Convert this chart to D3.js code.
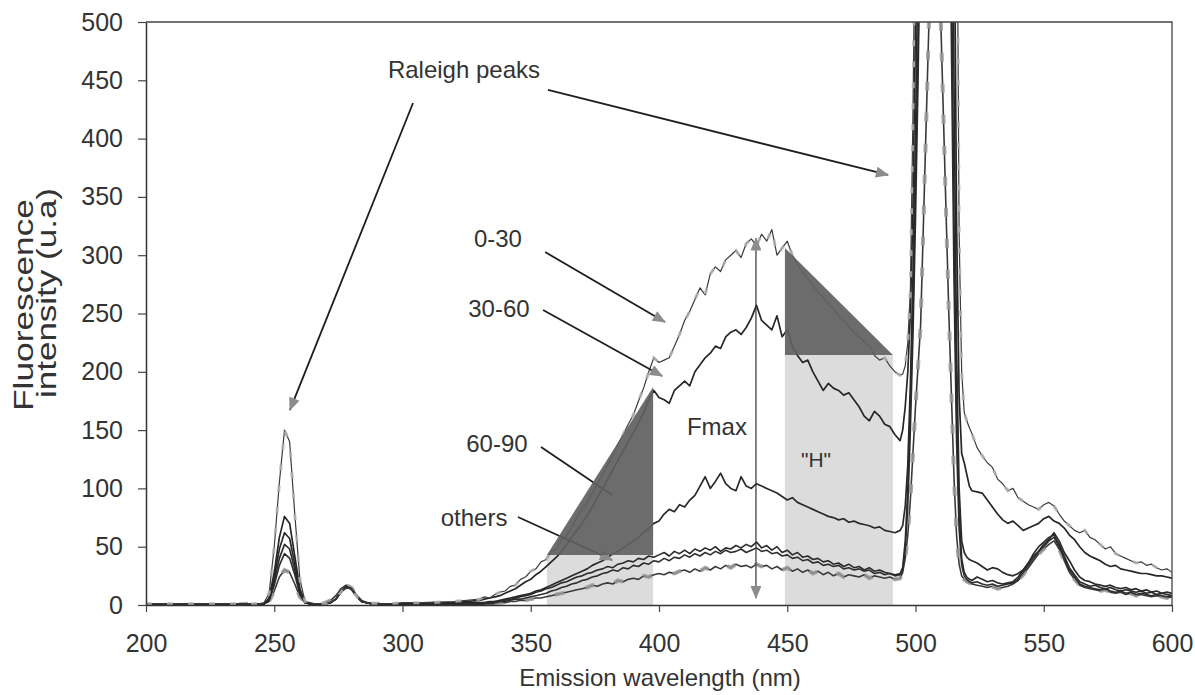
<!DOCTYPE html>
<html>
<head>
<meta charset="utf-8">
<script src="https://cdn.jsdelivr.net/npm/d3@7"></script>
<style>
  html, body { margin: 0; padding: 0; background: #fff; }
  svg { display: block; font-family: "Liberation Sans", Arial, sans-serif; }
</style>
</head>
<body>
<svg id="chart" width="1195" height="695"></svg>
<script>
// ---- sampling grid (nm) ----
const wavelengths = [].concat(
  [200, 210, 220, 230, 240],
  d3.range(244, 291, 2),
  [295, 300, 310, 320, 325],
  d3.range(330, 495, 2),
  d3.range(495, 523, 1),
  d3.range(524, 601, 2)
);

// ---- fluorescence intensity (u.a) per depth class ----
const depth0to30 = [
  1, 1, 1, 1, 1,
  1, 2, 10, 50, 105, 150, 140, 78, 22, 3,
  2, 1, 1, 1, 2, 5, 11, 15, 14, 8,
  3, 2, 1, 1,
  1, 2, 2, 3, 4,
  5, 7, 6, 9, 11, 12, 16, 17, 22, 24,
  29, 31, 37, 39, 46, 48, 56, 59, 67, 75,
  82, 88, 96, 104, 112, 120, 128, 138, 146, 155,
  163, 175, 186, 200, 212, 208, 210, 212, 222, 232,
  244, 252, 262, 272, 266, 284, 290, 286, 296, 300,
  304, 298, 310, 314, 308, 318, 312, 322, 300, 306,
  312, 300, 292, 286, 280, 274, 268, 264, 258, 254,
  248, 244, 238, 234, 230, 226, 222, 214, 210, 212,
  205, 200, 197,
  198, 205, 225, 270, 420, 620, 850, 1000, 1000, 1000,
  1000, 1000, 1000, 1000, 1000, 1000, 1000, 1000, 1000, 1000,
  1000, 700, 320, 200, 165, 158, 152, 147,
  135, 128, 122, 118, 108, 104, 98, 100, 92, 89,
  86, 84, 82, 86, 88, 85, 78, 72, 68, 64,
  62, 64, 58, 56, 52, 48, 50, 44, 42, 40,
  38, 36, 37, 34, 35, 32, 30, 31, 28
];

const depth30to60 = [
  1, 1, 1, 1, 1,
  1, 1, 6, 28, 58, 76, 70, 42, 14, 2,
  1, 1, 1, 1, 2, 5, 11, 15, 14, 8,
  3, 2, 1, 1,
  1, 1, 2, 2, 3,
  4, 5, 6, 7, 8, 10, 12, 14, 17, 20,
  22, 26, 29, 33, 37, 41, 46, 52, 58, 64,
  70, 77, 84, 92, 100, 108, 116, 124, 132, 140,
  148, 156, 165, 176, 184, 178, 176, 173, 184, 188,
  192, 188, 200, 206, 212, 216, 222, 220, 230, 234,
  236, 232, 238, 246, 257, 244, 240, 236, 248, 230,
  236, 222, 214, 208, 210, 200, 192, 184, 190, 186,
  184, 180, 182, 176, 170, 162, 158, 166, 162, 155,
  153, 146, 141,
  150, 170, 200, 250, 340, 500, 700, 900, 1000, 1000,
  1000, 1000, 1000, 1000, 1000, 1000, 1000, 1000, 1000, 1000,
  650, 330, 180, 130, 122, 112, 102, 98,
  97, 96, 90, 84, 78, 73, 70, 72, 68, 64,
  66, 68, 70, 74, 76, 72, 70, 66, 60, 56,
  50, 45, 42, 40, 38, 35, 33, 34, 31, 30,
  29, 28, 27, 27, 26, 25, 25, 24, 23
];

const depth60to90 = [
  1, 1, 1, 1, 1,
  1, 1, 5, 24, 48, 62, 57, 35, 12, 2,
  1, 1, 1, 1, 2, 5, 11, 15, 14, 8,
  3, 2, 1, 1,
  1, 1, 1, 2, 2,
  2, 2, 3, 3, 4, 5, 6, 7, 8, 9,
  10, 12, 13, 15, 17, 19, 21, 23, 25, 27,
  29, 31, 34, 36, 38, 41, 44, 46, 49, 52,
  55, 58, 62, 66, 70, 72, 78, 82, 80, 86,
  84, 90, 94, 102, 110, 100, 106, 113, 104, 100,
  98, 110, 102, 100, 104, 102, 100, 98, 96, 93,
  90, 92, 88, 86, 84, 82, 80, 78, 76, 75,
  73, 74, 71, 72, 70, 69, 68, 66, 67, 64,
  63, 62, 64,
  68, 85, 120, 190, 280, 400, 560, 740, 900, 1000,
  1000, 1000, 1000, 1000, 1000, 1000, 1000, 1000, 1000, 750,
  450, 220, 100, 55, 45, 41, 39, 38,
  36, 33, 30, 32, 31, 28, 26, 25, 27, 30,
  36, 42, 46, 52, 56, 62, 55, 45, 38, 30,
  24, 21, 20, 18, 17, 16, 17, 15, 14, 15,
  13, 14, 12, 13, 11, 12, 10, 11, 10
];

const othersA = [
  0, 0, 1, 1, 1,
  1, 1, 4, 20, 40, 52, 48, 30, 10, 2,
  1, 1, 1, 1, 2, 5, 11, 15, 14, 8,
  3, 2, 1, 1,
  0, 1, 1, 1, 1,
  1, 2, 2, 3, 3, 4, 5, 6, 7, 8,
  9, 11, 12, 14, 15, 17, 19, 20, 22, 24,
  25, 27, 28, 30, 31, 33, 32, 35, 36, 38,
  37, 40, 39, 42, 41, 43, 45, 42, 46, 44,
  47, 44, 48, 46, 49, 47, 50, 46, 49, 48,
  51, 49, 52, 50, 54, 49, 51, 47, 50, 45,
  47, 43, 45, 41, 42, 39, 40, 37, 38, 35,
  36, 33, 35, 32, 33, 30, 32, 29, 30, 28,
  27, 26, 27,
  32, 55, 100, 170, 250, 360, 480, 620, 780, 920,
  1000, 1000, 1000, 1000, 1000, 1000, 1000, 1000, 800, 560,
  330, 170, 80, 40, 28, 24, 22, 21,
  24, 22, 20, 21, 19, 18, 19, 20, 24, 30,
  36, 44, 50, 54, 58, 60, 52, 42, 32, 26,
  20, 18, 16, 17, 15, 14, 15, 13, 12, 13,
  12, 11, 12, 10, 11, 9, 10, 9, 8
];

const othersB = [
  0, 0, 0, 1, 1,
  1, 1, 4, 17, 34, 44, 40, 26, 9, 2,
  1, 1, 1, 1, 2, 5, 12, 16, 14, 8,
  3, 2, 1, 1,
  0, 0, 1, 1, 1,
  1, 1, 2, 2, 3, 3, 4, 5, 5, 6,
  7, 8, 9, 10, 12, 13, 15, 16, 18, 19,
  21, 22, 24, 25, 27, 28, 30, 29, 32, 31,
  34, 33, 36, 35, 38, 37, 40, 38, 41, 40,
  43, 41, 44, 42, 45, 43, 46, 44, 47, 45,
  46, 48, 45, 47, 49, 46, 47, 44, 45, 42,
  43, 40, 41, 38, 39, 36, 37, 34, 35, 33,
  34, 31, 32, 30, 31, 29, 30, 27, 28, 26,
  27, 25, 26,
  30, 48, 85, 150, 230, 330, 450, 600, 760, 900,
  1000, 1000, 1000, 1000, 1000, 1000, 1000, 900, 700, 480,
  280, 140, 65, 34, 25, 22, 20, 19,
  20, 18, 17, 18, 16, 17, 18, 19, 22, 28,
  34, 40, 46, 50, 55, 58, 50, 40, 30, 24,
  18, 16, 15, 14, 13, 14, 12, 11, 12, 10,
  11, 9, 10, 9, 8, 9, 8, 7, 8
];

const othersC = [
  0, 0, 0, 0, 1,
  1, 1, 3, 12, 24, 30, 28, 18, 7, 2,
  1, 1, 1, 2, 4, 8, 14, 17, 15, 9,
  4, 2, 1, 1,
  0, 0, 1, 1, 1,
  0, 1, 1, 1, 2, 2, 3, 3, 4, 4,
  5, 6, 6, 7, 8, 9, 10, 11, 12, 13,
  14, 15, 17, 16, 18, 19, 18, 21, 20, 22,
  23, 22, 25, 24, 26, 27, 26, 28, 27, 29,
  30, 28, 31, 29, 32, 30, 33, 31, 34, 32,
  35, 33, 34, 32, 35, 33, 34, 31, 33, 30,
  32, 29, 31, 28, 30, 27, 29, 26, 28, 25,
  27, 24, 26, 25, 24, 26, 23, 25, 24, 23,
  24, 22, 23,
  28, 40, 60, 90, 130, 170, 205, 240, 320, 400,
  480, 560, 620, 630, 570, 490, 410, 330, 250, 180,
  110, 60, 35, 25, 22, 20, 19, 18,
  17, 16, 15, 16, 14, 15, 16, 18, 21, 26,
  32, 38, 44, 48, 52, 55, 48, 38, 28, 22,
  17, 15, 14, 13, 12, 13, 11, 10, 11, 9,
  10, 8, 9, 8, 7, 8, 7, 6, 7
];

// ---- axis ticks ----
const xTicks = [200, 250, 300, 350, 400, 450, 500, 550, 600];
const yTicks = [0, 50, 100, 150, 200, 250, 300, 350, 400, 450, 500];

// ---- shaded areas (nm, u.a) ----
const lowerBands = [
  { x0: 356.3, x1: 397.7, y0: 0, y1: 42.9 },
  { x0: 449.1, x1: 491.2, y0: 0, y1: 214.4 }
];
const slopeTriangles = [
  [[356.3, 42.9], [397.7, 187.0], [397.7, 42.9]],
  [[449.1, 306.2], [449.1, 214.4], [491.2, 214.4]]
];

// ---- annotation labels and arrows (nm, u.a) ----
const labels = [
  { text: "Raleigh peaks", x: 294.3, y: 452, anchor: "start" },
  { text: "0-30",   x: 337.2, y: 307, anchor: "middle" },
  { text: "30-60",  x: 337.6, y: 247, anchor: "middle" },
  { text: "60-90",  x: 336.8, y: 131, anchor: "middle" },
  { text: "others", x: 327.9, y: 68,  anchor: "middle" },
  { text: "Fmax",   x: 410.9, y: 146, anchor: "start" },
  { text: "\"H\"",  x: 461.2, y: 118, anchor: "middle", size: 21 }
];
const arrowsUnder = [
  { from: [354.0, 135.5], to: [381.7, 94.3], head: false },
  { from: [345.0, 75.5],  to: [381.7, 38.6], head: true }
];
const arrowsOver = [
  { from: [304.1, 430.5], to: [256.1, 167.2] },
  { from: [356.7, 441.7], to: [489.3, 368.8] },
  { from: [355.6, 302.7], to: [402.3, 242.7] },
  { from: [354.8, 253.0], to: [401.2, 196.4] }
];
const fmaxLine = { x: 437.8, top: 314.5, bottom: 6 };

// ---- layout ----
const W = 1195, H = 695;
const margin = { left: 146, right: 23, top: 22, bottom: 90 };
const svg = d3.select("#chart");

const x = d3.scaleLinear().domain([200, 600]).range([margin.left, W - margin.right]);
const y = d3.scaleLinear().domain([0, 500]).range([H - margin.bottom, margin.top]);

const defs = svg.append("defs");
defs.append("clipPath").attr("id", "plotClip")
  .append("rect")
  .attr("x", x(200)).attr("y", y(500))
  .attr("width", x(600) - x(200)).attr("height", y(0) - y(500));

defs.append("marker")
  .attr("id", "head")
  .attr("markerUnits", "userSpaceOnUse")
  .attr("viewBox", "0 0 12 10")
  .attr("markerWidth", 14).attr("markerHeight", 11)
  .attr("refX", 11).attr("refY", 5)
  .attr("orient", "auto-start-reverse")
  .append("path").attr("d", "M0,0 L12,5 L0,10 Z").attr("fill", "#8c8c8c");

const plot = svg.append("g").attr("clip-path", "url(#plotClip)");

// light bands under the curves
plot.selectAll("rect.band").data(lowerBands).join("rect")
  .attr("class", "band")
  .attr("x", d => x(d.x0)).attr("width", d => x(d.x1) - x(d.x0))
  .attr("y", d => y(d.y1)).attr("height", d => y(d.y0) - y(d.y1))
  .attr("fill", "#dcdcdc");

// spectra
const series = [
  { values: othersC,    stroke: "#3a3a3a", width: 1.6, overlay: { color: "#9a9a9a", width: 4, dash: "9 22" } },
  { values: othersB,    stroke: "#2e2e2e", width: 1.6 },
  { values: othersA,    stroke: "#2a2a2a", width: 1.6 },
  { values: depth60to90, stroke: "#2a2a2a", width: 1.7 },
  { values: depth30to60, stroke: "#262626", width: 1.7 },
  { values: depth0to30,  stroke: "#3c3c3c", width: 1.2, overlay: { color: "#b0b0b0", width: 3, dash: "6 15" } }
];

const line = d3.line()
  .x((d, i) => x(wavelengths[i]))
  .y(d => y(d));

series.forEach(s => {
  plot.append("path")
    .attr("d", line(s.values))
    .attr("fill", "none")
    .attr("stroke", s.stroke)
    .attr("stroke-width", s.width)
    .attr("stroke-linejoin", "round");
  if (s.overlay) {
    plot.append("path")
      .attr("d", line(s.values))
      .attr("fill", "none")
      .attr("stroke", s.overlay.color)
      .attr("stroke-width", s.overlay.width)
      .attr("stroke-dasharray", s.overlay.dash)
      .attr("stroke-opacity", 0.85);
  }
});

// arrows partly hidden by the slope triangles
arrowsUnder.forEach(a => {
  svg.append("line")
    .attr("x1", x(a.from[0])).attr("y1", y(a.from[1]))
    .attr("x2", x(a.to[0])).attr("y2", y(a.to[1]))
    .attr("stroke", "#1e1e1e").attr("stroke-width", 1.8)
    .attr("marker-end", a.head ? "url(#head)" : null);
});

// slope triangles
svg.selectAll("path.tri").data(slopeTriangles).join("path")
  .attr("class", "tri")
  .attr("d", d => "M" + d.map(p => x(p[0]) + "," + y(p[1])).join("L") + "Z")
  .attr("fill", "#606060")
  .attr("fill-opacity", 0.92);

// Fmax double arrow
svg.append("line")
  .attr("x1", x(fmaxLine.x)).attr("x2", x(fmaxLine.x))
  .attr("y1", y(fmaxLine.top)).attr("y2", y(fmaxLine.bottom))
  .attr("stroke", "#333").attr("stroke-width", 1.2)
  .attr("marker-start", "url(#head)")
  .attr("marker-end", "url(#head)");

// pointer arrows
arrowsOver.forEach(a => {
  svg.append("line")
    .attr("x1", x(a.from[0])).attr("y1", y(a.from[1]))
    .attr("x2", x(a.to[0])).attr("y2", y(a.to[1]))
    .attr("stroke", "#1e1e1e").attr("stroke-width", 1.8)
    .attr("marker-end", "url(#head)");
});

// annotation text
svg.selectAll("text.lbl").data(labels).join("text")
  .attr("class", "lbl")
  .attr("x", d => x(d.x)).attr("y", d => y(d.y))
  .attr("text-anchor", d => d.anchor)
  .attr("font-size", d => d.size || 24)
  .attr("fill", "#333")
  .text(d => d.text);

// frame (top and right edges)
svg.append("path")
  .attr("d", `M${x(200)},${y(500)}H${x(600)}V${y(0)}`)
  .attr("fill", "none").attr("stroke", "#444").attr("stroke-width", 1.3);

// axes
const xAxis = svg.append("g")
  .attr("transform", `translate(0,${y(0)})`)
  .call(d3.axisBottom(x).tickValues(xTicks).tickSize(7).tickSizeOuter(0).tickPadding(22));
const yAxis = svg.append("g")
  .attr("transform", `translate(${x(200)},0)`)
  .call(d3.axisLeft(y).tickValues(yTicks).tickSize(8).tickSizeOuter(0).tickPadding(15));

[xAxis, yAxis].forEach(g => {
  g.select(".domain").attr("stroke", "#333").attr("stroke-width", 1.5);
  g.selectAll(".tick line").attr("stroke", "#444").attr("stroke-width", 1.2);
  g.selectAll(".tick text")
    .attr("font-family", "'Liberation Sans', Arial, sans-serif")
    .attr("font-size", 25).attr("fill", "#333");
});

// axis titles
svg.append("text")
  .attr("x", (x(200) + x(600)) / 2 + 1).attr("y", 686)
  .attr("text-anchor", "middle").attr("font-size", 24).attr("fill", "#333")
  .text("Emission wavelength (nm)");

const yTitle = svg.append("g").attr("fill", "#333").attr("font-size", 27);
yTitle.append("text")
  .attr("transform", "translate(33,305) rotate(-90)")
  .attr("text-anchor", "middle")
  .attr("textLength", 212).attr("lengthAdjust", "spacingAndGlyphs")
  .text("Fluorescence");
yTitle.append("text")
  .attr("transform", "translate(56,293) rotate(-90)")
  .attr("text-anchor", "middle")
  .attr("textLength", 210).attr("lengthAdjust", "spacingAndGlyphs")
  .text("intensity (u.a)");
</script>
</body>
</html>
